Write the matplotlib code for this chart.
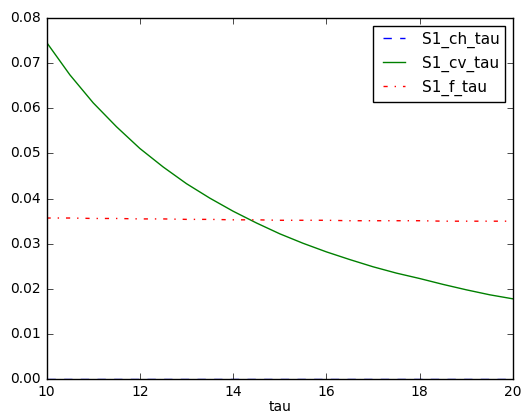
import matplotlib
matplotlib.use('Agg')
import matplotlib.pyplot as plt

# tau grid and the three series
tau = [10.0, 10.5, 11.0, 11.5, 12.0, 12.5, 13.0, 13.5, 14.0, 14.5, 15.0,
       15.5, 16.0, 16.5, 17.0, 17.5, 18.0, 18.5, 19.0, 19.5, 20.0]
s1_ch_tau = [0.0] * 21
s1_cv_tau = [0.0746, 0.0674, 0.0612, 0.0559, 0.0511, 0.0470, 0.0433, 0.0401,
             0.0372, 0.0346, 0.0322, 0.0301, 0.0282, 0.0265, 0.0249, 0.0235,
             0.0223, 0.0210, 0.0198, 0.0187, 0.0178]
s1_f_tau = [0.0357, 0.0357, 0.0356, 0.0356, 0.0355, 0.0355, 0.0354, 0.0354,
            0.0353, 0.0353, 0.0352, 0.0352, 0.0352, 0.0351, 0.0351, 0.0351,
            0.0351, 0.0350, 0.0350, 0.0350, 0.0350]

plt.style.use('classic')
fig = plt.figure(figsize=(5.23, 4.17), dpi=100)
fig.subplots_adjust(left=0.089, right=0.981, bottom=0.0905, top=0.957)
ax = fig.add_subplot(111)

ax.plot(tau, s1_ch_tau, 'b--', label='S1_ch_tau')
ax.plot(tau, s1_cv_tau, 'g-', label='S1_cv_tau')
ax.plot(tau, s1_f_tau, 'r-.', label='S1_f_tau')

ax.set_xlim(10, 20)
ax.set_ylim(0, 0.08)
ax.set_xlabel('tau', fontsize=10, labelpad=1)
ax.tick_params(labelsize=10)
ax.legend(loc='upper right', fontsize=11)

fig.savefig('out.png', dpi=100)
